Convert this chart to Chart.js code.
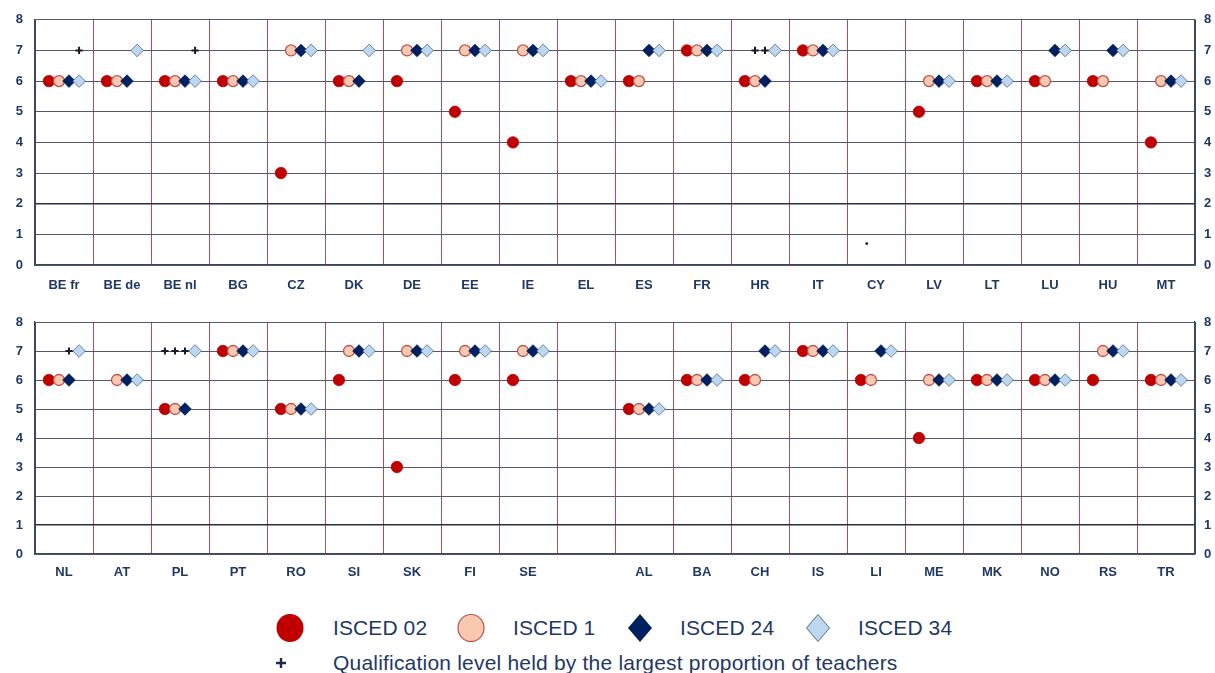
<!DOCTYPE html>
<html>
<head>
<meta charset="utf-8">
<script src="https://cdn.jsdelivr.net/npm/chart.js@4.4.1/dist/chart.umd.min.js"></script>
<style>
  html, body { margin: 0; padding: 0; background: #fff; }
  body { width: 1215px; height: 673px; position: relative; overflow: hidden; font-family: "Liberation Sans", Arial, sans-serif; }
  .panel { position: absolute; left: 0; width: 1215px; }
  #topWrap { top: 0; height: 300px; }
  #botWrap { top: 300px; height: 290px; }
  .lg { position: absolute; color: #1F3864; font-size: 21px; line-height: 21px; letter-spacing: 0.1px; white-space: nowrap; }
  svg.mk { position: absolute; overflow: visible; }
</style>
</head>
<body>
<div class="panel" id="topWrap"><canvas id="chartTop"></canvas></div>
<div class="panel" id="botWrap"><canvas id="chartBottom"></canvas></div>

<!-- legend -->
<svg class="mk" style="left:276px;top:614px" width="28" height="28"><ellipse cx="14" cy="14" rx="13.5" ry="14" fill="#C00000"/></svg>
<div class="lg" style="left:333px;top:617px">ISCED 02</div>
<svg class="mk" style="left:457px;top:614px" width="28" height="28"><ellipse cx="14" cy="14" rx="13" ry="13.5" fill="#F6C9B0" stroke="#C0504D" stroke-width="1.2"/></svg>
<div class="lg" style="left:513px;top:617px">ISCED 1</div>
<svg class="mk" style="left:628px;top:614px" width="24" height="28"><polygon points="12,0 24,14 12,28 0,14" fill="#002060"/></svg>
<div class="lg" style="left:680px;top:617px">ISCED 24</div>
<svg class="mk" style="left:806px;top:614px" width="24" height="28"><polygon points="12,0.5 23.5,14 12,27.5 0.5,14" fill="#BDD7EE" stroke="#2F4B7C" stroke-width="0.8"/></svg>
<div class="lg" style="left:858px;top:617px">ISCED 34</div>
<svg class="mk" style="left:276px;top:658px" width="10" height="10"><path d="M5 0 V10 M0 5 H10" stroke="#1F2A44" stroke-width="2.4"/></svg>
<div class="lg" style="left:333px;top:652px;letter-spacing:0.2px">Qualification level held by the largest proportion of teachers</div>

<script>
(function () {
  "use strict";

  // ---- data: top panel ----
  const topLabels = ["BE fr", "BE de", "BE nl", "BG", "CZ", "DK", "DE", "EE", "IE", "EL",
                     "ES", "FR", "HR", "IT", "CY", "LV", "LT", "LU", "HU", "MT"];
  const topIsced02 = [6, 6, 6, 6, 3, 6, 6, 5, 4, 6, 6, 7, 6, 7, null, 5, 6, 6, 6, 4];
  const topIsced1  = [6, 6, 6, 6, 7, 6, 7, 7, 7, 6, 6, 7, 6, 7, null, 6, 6, 6, 6, 6];
  const topIsced24 = [6, 6, 6, 6, 7, 6, 7, 7, 7, 6, 7, 7, 6, 7, null, 6, 6, 7, 7, 6];
  const topIsced34 = [6, 7, 6, 6, 7, 7, 7, 7, 7, 6, 7, 7, 7, 7, null, 6, 6, 7, 7, 6];
  // "+" marks: level held by the largest share of teachers, per ISCED level
  const topPlus02 = [null, null, null, null, null, null, null, null, null, null, null, null, null, null, null, null, null, null, null, null];
  const topPlus1  = [null, null, null, null, null, null, null, null, null, null, null, null, 7, null, null, null, null, null, null, null];
  const topPlus24 = [null, null, null, null, null, null, null, null, null, null, null, null, 7, null, null, null, null, null, null, null];
  const topPlus34 = [7, null, 7, null, null, null, null, null, null, null, null, null, null, null, null, null, null, null, null, null];
  const topDot    = [null, null, null, null, null, null, null, null, null, null, null, null, null, null, 0.7, null, null, null, null, null];

  // ---- data: bottom panel ----
  const botLabels = ["NL", "AT", "PL", "PT", "RO", "SI", "SK", "FI", "SE", "",
                     "AL", "BA", "CH", "IS", "LI", "ME", "MK", "NO", "RS", "TR"];
  const botIsced02 = [6, null, 5, 7, 5, 6, 3, 6, 6, null, 5, 6, 6, 7, 6, 4, 6, 6, 6, 6];
  const botIsced1  = [6, 6, 5, 7, 5, 7, 7, 7, 7, null, 5, 6, 6, 7, 6, 6, 6, 6, 7, 6];
  const botIsced24 = [6, 6, 5, 7, 5, 7, 7, 7, 7, null, 5, 6, 7, 7, 7, 6, 6, 6, 7, 6];
  const botIsced34 = [7, 6, 7, 7, 5, 7, 7, 7, 7, null, 5, 6, 7, 7, 7, 6, 6, 6, 7, 6];
  const botPlus02 = [null, null, 7, null, null, null, null, null, null, null, null, null, null, null, null, null, null, null, null, null];
  const botPlus1  = [null, null, 7, null, null, null, null, null, null, null, null, null, null, null, null, null, null, null, null, null];
  const botPlus24 = [7, null, 7, null, null, null, null, null, null, null, null, null, null, null, null, null, null, null, null, null];
  const botPlus34 = [null, null, null, null, null, null, null, null, null, null, null, null, null, null, null, null, null, null, null, null];

  const yTicks = [0, 1, 2, 3, 4, 5, 6, 7, 8];

  // ---- palette ----
  const C = {
    red: "#C00000", pink: "#F6C9B0", pinkEdge: "#C0504D",
    navy: "#002060", light: "#BDD7EE", lightEdge: "#4A6490",
    ink: "#1F3864", frame: "#3C4660", hline: "#55586A", hlineStrong: "#2A2F45",
    vline: "#A8505F", plus: "#1A1A2A",
  };

  Chart.defaults.font.family = "'Liberation Sans', Arial, sans-serif";

  // horizontal slot inside each category (in category units)
  const SLOT = [-0.26, -0.086, 0.086, 0.26];
  const DOT_SLOT = -0.16;

  function pts(values, off) {
    const out = [];
    values.forEach((v, i) => { if (v != null) out.push({ x: i + 0.5 + off, y: v }); });
    return out;
  }

  function tickFont() { return { size: 13, weight: "bold" }; }

  function build(id, labels, s02, s1, s24, s34, plus, dots, o) {
    const datasets = [
      { label: "ISCED 02", data: pts(s02, SLOT[0]), pointStyle: "circle", pointRadius: 5.7,
        backgroundColor: C.red, borderColor: "#B80000", borderWidth: 0.8, order: 6 },
      { label: "ISCED 1", data: pts(s1, SLOT[1]), pointStyle: "circle", pointRadius: 5.5,
        backgroundColor: C.pink, borderColor: C.pinkEdge, borderWidth: 1.3, order: 5 },
      { label: "ISCED 24", data: pts(s24, SLOT[2]), pointStyle: "rectRot", pointRadius: 6.3,
        backgroundColor: C.navy, borderColor: C.navy, borderWidth: 0.8, order: 4 },
      { label: "ISCED 34", data: pts(s34, SLOT[3]), pointStyle: "rectRot", pointRadius: 6.3,
        backgroundColor: C.light, borderColor: C.lightEdge, borderWidth: 0.8, order: 3 },
    ];
    plus.forEach((arr, k) => {
      datasets.push({ label: "plus" + k, data: pts(arr, SLOT[k]), pointStyle: "cross", pointRadius: 3.6,
        borderColor: C.plus, borderWidth: 2, order: 1 });
    });
    if (dots) {
      datasets.push({ label: "dot", data: pts(dots, DOT_SLOT), pointStyle: "circle", pointRadius: 1.4,
        backgroundColor: "#111", borderColor: "#111", borderWidth: 0, order: 1 });
    }

    const yAxis = (pos, pad, width) => ({
      type: "linear", position: pos, min: 0, max: 8,
      afterBuildTicks: (s) => { s.ticks = yTicks.map((v) => ({ value: v })); },
      ticks: { padding: pad, color: C.ink, font: tickFont() },
      grid: pos === "left"
        ? { drawTicks: false, lineWidth: (c) => (c.tick && c.tick.value === o.strong ? 1.6 : 1),
            color: (c) => (c.tick && c.tick.value === o.strong ? C.hlineStrong : C.hline) }
        : { display: false, drawTicks: false },
      border: { color: C.frame, width: 1.3 },
      afterFit: (s) => { s.width = width; },
    });

    new Chart(document.getElementById(id), {
      type: "scatter",
      data: { datasets },
      options: {
        responsive: true, maintainAspectRatio: false, animation: false, events: [],
        layout: { padding: { top: o.top, left: 0, right: 0, bottom: 0 } },
        plugins: { legend: { display: false }, tooltip: { enabled: false } },
        scales: {
          x: { type: "linear", min: 0, max: labels.length, display: false },
          xc: {
            type: "category", labels: labels, position: "bottom", offset: true,
            grid: { offset: true, drawTicks: false, lineWidth: 1,
                    color: (c) => (c.index === undefined || c.index === 0 ? C.frame : C.vline) },
            border: { color: C.frame, width: 1.3 },
            ticks: { padding: o.labelPad, color: C.ink, font: tickFont(), autoSkip: false, maxRotation: 0 },
            afterFit: (s) => { s.height = o.axisH; },
          },
          y: yAxis("left", 12, 35),
          y2: yAxis("right", 9, 20),
        },
      },
    });
  }

  build("chartTop", topLabels, topIsced02, topIsced1, topIsced24, topIsced34,
        [topPlus02, topPlus1, topPlus24, topPlus34], topDot,
        { top: 19, axisH: 35, labelPad: 13, strong: 2 });
  build("chartBottom", botLabels, botIsced02, botIsced1, botIsced24, botIsced34,
        [botPlus02, botPlus1, botPlus24, botPlus34], null,
        { top: 22, axisH: 36, labelPad: 11, strong: 1 });
})();
</script>
</body>
</html>
